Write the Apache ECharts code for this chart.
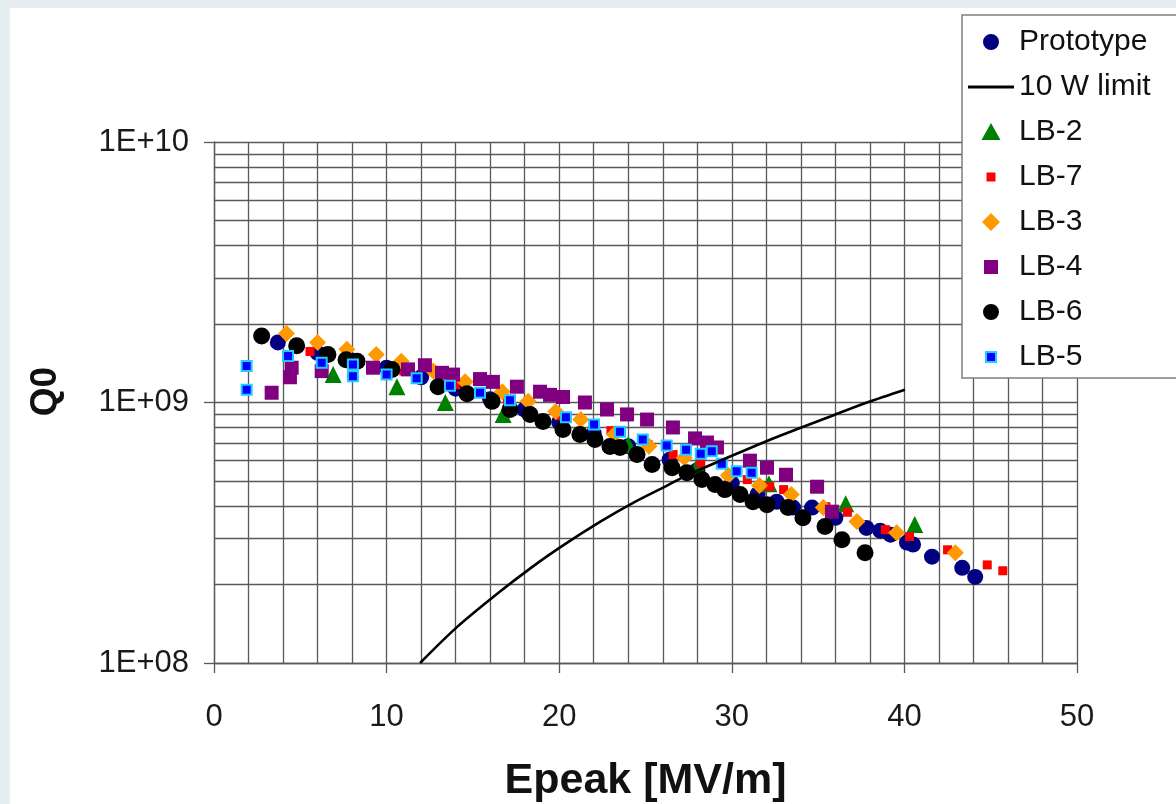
<!DOCTYPE html>
<html>
<head>
<meta charset="utf-8">
<script src="https://cdn.jsdelivr.net/npm/echarts@6/dist/echarts.min.js"></script>
<style>
  html,body{margin:0;padding:0;background:#e5eff2;width:1176px;height:804px;overflow:hidden;}
  #panel{position:absolute;left:10px;top:8px;right:0;bottom:0;background:#ffffff;}
  #chart{position:absolute;left:0;top:0;width:1176px;height:804px;}
</style>
</head>
<body>
<div id="panel"></div>
<div id="chart"></div>
<script>
// ---- data: [Epeak (MV/m), Q0] ----
const prototype = [[3.7,1.70e9],[6.0,1.55e9],[8.0,1.45e9],[10.0,1.36e9],[12.0,1.25e9],[14.0,1.13e9],[16.0,1.03e9],[18.0,9.4e8],[20.0,8.4e8],[22.0,7.6e8],[24.0,6.8e8],[26.4,6.03e8],[28.0,5.5e8],[30.0,4.9e8],[31.5,4.45e8],[32.6,4.16e8],[33.55,3.95e8],[34.65,3.95e8],[36.0,3.61e8],[37.8,3.30e8],[38.6,3.22e8],[39.2,3.11e8],[40.15,2.90e8],[40.5,2.85e8],[41.6,2.56e8],[43.35,2.32e8],[44.1,2.14e8]];
const limit10W = [[11.94,1.0e8],[14.06,1.37e8],[16.57,1.88e8],[18.48,2.35e8],[20.05,2.78e8],[22.36,3.48e8],[24.28,4.12e8],[26.25,4.8e8],[27.4,5.25e8],[30.07,6.27e8],[32.04,7.12e8],[33.95,7.98e8],[35.86,8.92e8],[37.83,1.0e9],[40.03,1.12e9]];
const lb2 = [[6.9,1.28e9],[10.6,1.15e9],[13.4,1.0e9],[16.75,9.0e8],[24.0,6.9e8],[28.0,5.7e8],[32.15,4.88e8],[36.6,4.09e8],[40.6,3.40e8]];
const lb7 = [[5.56,1.57e9],[8.0,1.45e9],[11.0,1.32e9],[14.0,1.17e9],[17.0,1.03e9],[20.0,8.9e8],[23.0,7.8e8],[25.15,6.89e8],[26.6,6.31e8],[28.2,5.87e8],[30.9,5.06e8],[32.2,4.75e8],[33.0,4.63e8],[35.45,3.98e8],[36.7,3.79e8],[38.9,3.25e8],[40.3,3.06e8],[42.5,2.72e8],[44.8,2.38e8],[45.7,2.26e8]];
const lb3 = [[4.2,1.84e9],[6.0,1.70e9],[7.7,1.60e9],[9.4,1.53e9],[10.85,1.44e9],[12.7,1.32e9],[14.55,1.20e9],[16.7,1.10e9],[18.2,1.01e9],[19.8,9.23e8],[21.25,8.6e8],[23.2,7.53e8],[25.2,6.8e8],[27.25,6.14e8],[29.8,5.24e8],[31.6,4.8e8],[33.45,4.43e8],[35.3,3.95e8],[37.25,3.49e8],[39.55,3.16e8],[42.95,2.65e8]];
const lb4 = [[3.34,1.09e9],[4.4,1.25e9],[4.5,1.36e9],[6.24,1.32e9],[9.21,1.36e9],[11.24,1.34e9],[12.22,1.39e9],[13.21,1.30e9],[13.85,1.28e9],[15.41,1.23e9],[16.16,1.20e9],[17.55,1.15e9],[18.89,1.10e9],[19.47,1.07e9],[20.22,1.05e9],[21.49,1.0e9],[22.77,9.4e8],[23.93,9.0e8],[25.09,8.6e8],[26.59,8.02e8],[27.87,7.28e8],[28.56,7.02e8],[29.14,6.72e8],[31.05,5.98e8],[32.04,5.62e8],[33.14,5.28e8],[34.94,4.75e8],[35.8,3.81e8]];
const lb6 = [[2.76,1.80e9],[4.79,1.65e9],[6.6,1.53e9],[7.65,1.46e9],[8.29,1.44e9],[10.31,1.34e9],[12.98,1.15e9],[14.66,1.08e9],[16.11,1.01e9],[17.15,9.4e8],[18.31,9.0e8],[19.06,8.45e8],[20.22,7.87e8],[21.2,7.53e8],[22.07,7.21e8],[22.94,6.78e8],[23.52,6.72e8],[24.51,6.31e8],[25.38,5.78e8],[26.54,5.62e8],[27.4,5.38e8],[28.27,5.06e8],[29.03,4.84e8],[29.6,4.63e8],[30.48,4.43e8],[31.23,4.16e8],[32.04,4.05e8],[33.26,3.95e8],[34.12,3.61e8],[35.4,3.34e8],[36.38,2.97e8],[37.72,2.65e8]];
const lb5 = [[1.89,1.38e9],[1.89,1.12e9],[4.29,1.51e9],[6.24,1.42e9],[8.05,1.40e9],[8.05,1.26e9],[10.0,1.28e9],[11.74,1.24e9],[13.67,1.16e9],[15.41,1.09e9],[17.15,1.02e9],[20.39,8.78e8],[22.02,8.23e8],[23.52,7.73e8],[24.84,7.21e8],[26.23,6.84e8],[27.35,6.59e8],[28.2,6.36e8],[28.84,6.50e8],[29.42,5.82e8],[30.28,5.45e8],[31.15,5.37e8]];

const seriesNames = ['Prototype','10 W limit','LB-2','LB-7','LB-3','LB-4','LB-6','LB-5'];
const yTicks = [1e8, 1e9, 1e10];
const yTickLabels = ['1E+08','1E+09','1E+10'];
const yMinorGrid = [2e8,3e8,4e8,5e8,6e8,7e8,8e8,9e8,2e9,3e9,4e9,5e9,6e9,7e9,8e9,9e9];

const FONT = '"Liberation Sans", Arial, sans-serif';
const GRID_COLOR = '#595959';
const GRID_W = 1.3;

// legend icons (with invisible corner points to fix the box size)
const box = 'M0,0Z M22,22Z ';
const icons = {
  'Prototype': 'path://' + box + 'M3,11a8,8 0 1,0 16,0a8,8 0 1,0 -16,0Z',
  '10 W limit': 'path://M0,0Z M46,22Z M0,9.6h46v2.8h-46Z',
  'LB-2': 'path://' + box + 'M11,2L20.5,19L1.5,19Z',
  'LB-7': 'path://' + box + 'M6.5,6.5h9v9h-9Z',
  'LB-3': 'path://' + box + 'M11,2L20,11L11,20L2,11Z',
  'LB-4': 'path://' + box + 'M4,4h14v14h-14Z',
  'LB-6': 'path://' + box + 'M3,11a8,8 0 1,0 16,0a8,8 0 1,0 -16,0Z',
  'LB-5': 'path://' + box + 'M6,6h10v10h-10Z'
};

function scatter(name, data, symbol, size, color, extra) {
  return Object.assign({
    name: name, type: 'scatter', data: data, symbol: symbol, symbolSize: size,
    itemStyle: { color: color, opacity: 1 }, silent: true
  }, extra || {});
}

const chart = echarts.init(document.getElementById('chart'), null, { renderer: 'canvas' });
chart.setOption({
  backgroundColor: 'transparent',
  animation: false,
  textStyle: { fontFamily: FONT },
  grid: { left: 214, right: 99, top: 142, bottom: 141, containLabel: false, outerBoundsMode: 'none', show: false },
  legend: {
    orient: 'vertical', left: 962, top: 15,
    padding: [12, 30, 6, 6],
    itemWidth: 46, itemHeight: 22, itemGap: 15,
    backgroundColor: '#ffffff', borderColor: '#7f7f7f', borderWidth: 1.5, borderRadius: 0,
    selectedMode: false,
    textStyle: { fontFamily: FONT, fontSize: 30, color: '#111', lineHeight: 30, padding: [0,0,0,0] },
    data: seriesNames.map(n => ({ name: n, icon: icons[n], itemStyle: n === '10 W limit' ? { color: '#000' } : undefined }))
  },
  xAxis: {
    type: 'value', min: 0, max: 50, interval: 10,
    name: 'Epeak [MV/m]', nameLocation: 'middle', nameGap: 97,
    nameTextStyle: { fontFamily: FONT, fontSize: 43, fontWeight: 'bold', color: '#111' },
    axisLine: { show: true, onZero: false, lineStyle: { color: GRID_COLOR, width: GRID_W } },
    axisTick: { show: true, inside: false, length: 10, lineStyle: { color: GRID_COLOR, width: GRID_W } },
    axisLabel: { fontFamily: FONT, fontSize: 31, color: '#1a1a1a', margin: 39 },
    splitLine: { show: true, lineStyle: { color: GRID_COLOR, width: GRID_W } },
    minorTick: { show: false, splitNumber: 5 },
    minorSplitLine: { show: true, lineStyle: { color: GRID_COLOR, width: GRID_W } }
  },
  yAxis: {
    type: 'log', logBase: 10, min: 1e8, max: 1e10,
    name: 'Q0', nameLocation: 'middle', nameGap: 150, nameRotate: 90,
    nameTextStyle: { fontFamily: FONT, fontSize: 37, fontWeight: 'bold', color: '#111', padding: [0, 0, 0, 22] },
    axisLine: { show: true, onZero: false, lineStyle: { color: GRID_COLOR, width: GRID_W } },
    axisTick: { show: true, inside: false, length: 10, lineStyle: { color: GRID_COLOR, width: GRID_W } },
    axisLabel: {
      fontFamily: FONT, fontSize: 31, color: '#1a1a1a', margin: 25,
      formatter: function (v) {
        for (let i = 0; i < yTicks.length; i++) {
          if (Math.abs(Math.log10(v) - Math.log10(yTicks[i])) < 1e-6) return yTickLabels[i];
        }
        return '';
      }
    },
    splitLine: { show: true, lineStyle: { color: GRID_COLOR, width: GRID_W } }
  },
  series: [
    scatter('Prototype', prototype, 'circle', 16, '#000080'),
    {
      name: '10 W limit', type: 'line', data: limit10W, smooth: 0.3, symbol: 'none', silent: true,
      lineStyle: { color: '#000000', width: 2.6 }, itemStyle: { color: '#000000' },
      markLine: {
        silent: true, z: 1, symbol: ['none', 'none'], label: { show: false },
        emphasis: { disabled: true },
        lineStyle: { color: GRID_COLOR, width: GRID_W, type: 'solid' },
        data: yMinorGrid.map(v => ({ yAxis: v }))
      }
    },
    scatter('LB-2', lb2, 'triangle', 17, '#008000'),
    scatter('LB-7', lb7, 'rect', 9, '#ff0000'),
    scatter('LB-3', lb3, 'diamond', 17, '#ff9900'),
    scatter('LB-4', lb4, 'rect', 14, '#800080'),
    scatter('LB-6', lb6, 'circle', 17, '#000000'),
    scatter('LB-5', lb5, 'rect', 10, '#0000ff', { itemStyle: { color: '#0000ff', borderColor: '#22ccff', borderWidth: 2, opacity: 1 } })
  ]
});
</script>
</body>
</html>
